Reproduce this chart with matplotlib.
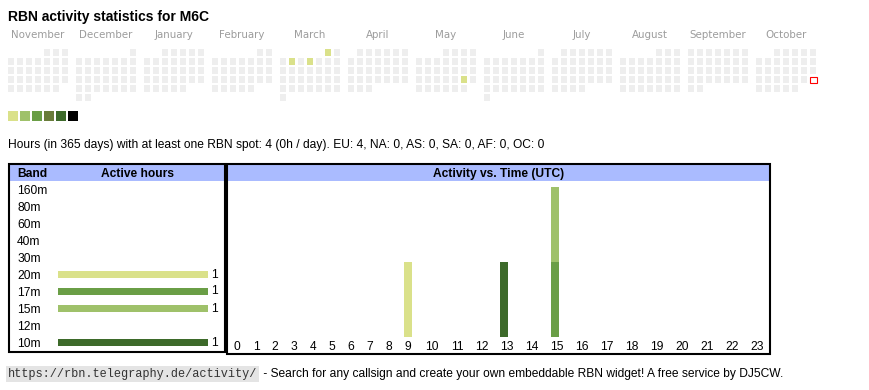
import datetime as dt
import matplotlib
matplotlib.use('Agg')
import matplotlib.pyplot as plt
from matplotlib.patches import Rectangle

# data
callsign = 'M6C'
months = [(2024, 11), (2024, 12), (2025, 1), (2025, 2), (2025, 3), (2025, 4),
          (2025, 5), (2025, 6), (2025, 7), (2025, 8), (2025, 9), (2025, 10)]
month_names = ['November', 'December', 'January', 'February', 'March', 'April',
               'May', 'June', 'July', 'August', 'September', 'October']
today = dt.date(2025, 10, 26)
active_days = [dt.date(2025, 3, 1), dt.date(2025, 3, 4), dt.date(2025, 3, 6), dt.date(2025, 5, 24)]
active_levels = [1, 1, 1, 1]
level_colors = ['#dae18a', '#9fc16a', '#6a9e46', '#697c3a', '#3d6a2a', '#000000']

total_hours = 4
per_day = 0
continents = ['EU', 'NA', 'AS', 'SA', 'AF', 'OC']
continent_hours = [4, 0, 0, 0, 0, 0]

bands = ['160m', '80m', '60m', '40m', '30m', '20m', '17m', '15m', '12m', '10m']
band_hours = [0, 0, 0, 0, 0, 1, 1, 1, 0, 1]
band_colors = ['#000000', '#3d6a2a', '#697c3a', '#6a9e46', '#9fc16a',
               '#dae18a', '#6a9e46', '#9fc16a', '#697c3a', '#3d6a2a']

hours = list(range(24))
# active hours per UTC hour, per band (bands not listed have none)
hour_activity = {
    '20m': [0, 0, 0, 0, 0, 0, 0, 0, 0, 1, 0, 0, 0, 0, 0, 0, 0, 0, 0, 0, 0, 0, 0, 0],
    '17m': [0, 0, 0, 0, 0, 0, 0, 0, 0, 0, 0, 0, 0, 0, 0, 1, 0, 0, 0, 0, 0, 0, 0, 0],
    '15m': [0, 0, 0, 0, 0, 0, 0, 0, 0, 0, 0, 0, 0, 0, 0, 1, 0, 0, 0, 0, 0, 0, 0, 0],
    '10m': [0, 0, 0, 0, 0, 0, 0, 0, 0, 0, 0, 0, 0, 1, 0, 0, 0, 0, 0, 0, 0, 0, 0, 0],
}

W, H = 870, 390
FS = 8.68
plt.rcParams['font.family'] = ['Liberation Sans', 'DejaVu Sans']
fig = plt.figure(figsize=(W / 100, H / 100), dpi=100)


def px_axes(x0, y0, x1, y1):
    ax = fig.add_axes([x0 / W, 1 - y1 / H, (x1 - x0) / W, (y1 - y0) / H])
    ax.patch.set_alpha(0)
    return ax


# background axes in pixel units
bg = px_axes(0, 0, W, H)
bg.set_xlim(0, W)
bg.set_ylim(H, 0)
bg.axis('off')

bg.text(8, 21, 'RBN activity statistics for ' + callsign, fontsize=10,
        fontweight='bold', va='baseline')

# calendar
level_of = dict(zip(active_days, active_levels))
for i, ((y, m), name) in enumerate(zip(months, month_names)):
    x0 = 8 + 68 * i
    bg.text(x0 + 30, 35.5, name, family='DejaVu Sans', fontsize=7.4,
            color='#9c9c9c', ha='center', va='center')
    first = dt.date(y, m, 1)
    nxt = dt.date(y + (m == 12), m % 12 + 1, 1)
    for d in range((nxt - first).days):
        day = first + dt.timedelta(days=d)
        idx = first.weekday() + d
        cx, cy = x0 + 9 * (idx % 7), 49 + 9 * (idx // 7)
        if day == today:
            bg.add_patch(Rectangle((cx + 0.5, cy + 0.5), 6.5, 6.5, fc='white',
                                   ec='red', lw=0.8))
        else:
            lvl = level_of.get(day, 0)
            fc = level_colors[lvl - 1] if lvl else '#eeeeee'
            bg.add_patch(Rectangle((cx, cy), 6.5, 6.5, fc=fc, ec='none'))

for k, c in enumerate(level_colors):
    bg.add_patch(Rectangle((8 + 12 * k, 111), 10, 10, fc=c, ec='none'))

stats = 'Hours (in 365 days) with at least one RBN spot: %d (%dh / day). ' % (total_hours, per_day)
stats += ', '.join('%s: %d' % (c, n) for c, n in zip(continents, continent_hours))
bg.text(8, 148, stats, fontsize=FS, va='baseline')

# boxes and headers
bg.add_patch(Rectangle((9, 165), 215, 16, fc='#aabbff', ec='none'))
bg.add_patch(Rectangle((228, 165), 541, 16, fc='#aabbff', ec='none'))
bg.add_patch(Rectangle((9, 164), 216, 187.5, fc='none', ec='black', lw=1.5))
bg.add_patch(Rectangle((227, 164), 543.5, 190, fc='none', ec='black', lw=1.5))
bg.text(17, 177, 'Band', fontsize=FS, fontweight='bold', va='baseline')
bg.text(138, 177, 'Active hours', fontsize=FS, fontweight='bold', va='baseline', ha='center')
bg.text(498.5, 177, 'Activity vs. Time (UTC)', fontsize=FS, fontweight='bold',
        va='baseline', ha='center')

# band bars
bx = px_axes(58, 181, 208, 351)
bars = bx.barh(range(len(bands)), band_hours, height=7 / 17, color=band_colors)
bx.set_xlim(0, max(band_hours))
bx.set_ylim(len(bands) - 0.5, -0.5)
bx.set_xticks([])
bx.set_yticks(range(len(bands)), labels=bands, fontsize=FS)
bx.tick_params(axis='y', length=0, pad=29.5)
for lab in bx.get_yticklabels():
    lab.set_ha('left')
for s in bx.spines.values():
    s.set_visible(False)
bx.bar_label(bars, labels=[str(v) if v else '' for v in band_hours], padding=2.5, fontsize=FS)

# activity vs time (HTML table column layout: one-digit cells narrower)
centers = [237 + 19 * h if h < 10 else 432 + 25 * (h - 10) for h in hours]
lefts = [c - (3.5 if h < 10 else 6.5) for c, h in zip(centers, hours)]
ax = px_axes(228, 181, 769, 337)
ax.set_xlim(228, 769)
ax.set_ylim(0, 156 / 75)
bottom = [0] * 24
for b, col in zip(bands, band_colors):
    if b in hour_activity:
        ax.bar(lefts, hour_activity[b], width=8, bottom=bottom, align='edge',
               color=col, linewidth=0)
        bottom = [p + q for p, q in zip(bottom, hour_activity[b])]
ax.set_yticks([])
ax.set_xticks(centers, labels=[str(h) for h in hours], fontsize=FS)
ax.tick_params(axis='x', length=0, pad=2.8)
for s in ax.spines.values():
    s.set_visible(False)

# footer
url = bg.text(8, 374, 'https://rbn.telegraphy.de/activity/', family='Liberation Mono',
              fontsize=8.6, color='#333333', va='center',
              bbox=dict(fc='#e4e4e4', ec='none', pad=1.5))
bg.annotate(' - Search for any callsign and create your own embeddable RBN widget! A free service by DJ5CW.',
            xy=(1, 0.5), xycoords=url, xytext=(2, 0), textcoords='offset points',
            fontsize=FS, va='center')

fig.savefig('out.png', dpi=100)
